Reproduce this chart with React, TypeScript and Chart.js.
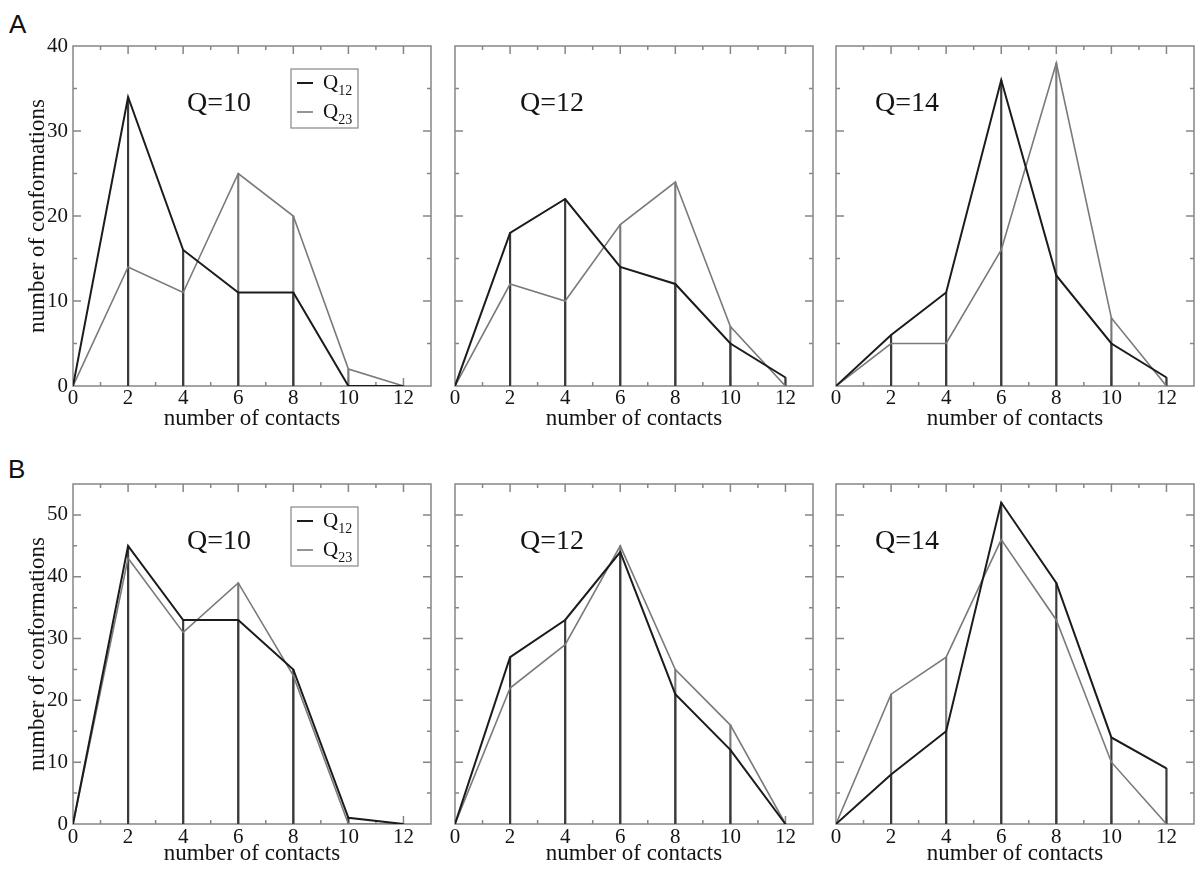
import { useEffect, useRef } from "react";
import { Chart, registerables } from "chart.js";

Chart.register(...registerables);

// Shared x values (number of contacts) and tick labels
const contacts = [0, 2, 4, 6, 8, 10, 12];
const xTicks = [0, 2, 4, 6, 8, 10, 12];
const yTicksA = [0, 10, 20, 30, 40];
const yTicksB = [0, 10, 20, 30, 40, 50];

// Row A: number of conformations per contact count
const a10Q12 = [0, 34, 16, 11, 11, 0, 0];
const a10Q23 = [0, 14, 11, 25, 20, 2, 0];
const a12Q12 = [0, 18, 22, 14, 12, 5, 1];
const a12Q23 = [0, 12, 10, 19, 24, 7, 0];
const a14Q12 = [0, 6, 11, 36, 13, 5, 1];
const a14Q23 = [0, 5, 5, 16, 38, 8, 0];

// Row B
const b10Q12 = [0, 45, 33, 33, 25, 1, 0];
const b10Q23 = [0, 43, 31, 39, 24, 0, 0];
const b12Q12 = [0, 27, 33, 44, 21, 12, 0];
const b12Q23 = [0, 22, 29, 45, 25, 16, 0];
const b14Q12 = [0, 8, 15, 52, 39, 14, 9];
const b14Q23 = [0, 21, 27, 46, 33, 10, 0];

const panelTitles = ["Q=10", "Q=12", "Q=14"];
const rowLetters = ["A", "B"];
const seriesBase = ["Q", "Q"];
const seriesSub = ["12", "23"];
const xTitle = "number of contacts";
const yTitle = "number of conformations";

const SERIF = "'Liberation Serif', 'Times New Roman', serif";
const DARK = "#1b1b1b";
const GREY = "#7a7a7a";
const FRAME = "#868686";
const TEXT = "#141414";

// Layout of each plot area (pixels in the page)
const COL_LEFT = [73, 455, 836];
const ROW_TOP = [46, 484];
const PLOT_W = 358;
const PLOT_H = 340;
const PAD_L = 73;
const PAD_T = 46;
const CANVAS_W = PAD_L + PLOT_W + 10;
const CANVAS_H = PAD_T + PLOT_H + 56;
const TITLE_DX = [114, 65, 39];
const TICK_FONT = 21;
const TITLE_FONT = 23;

type PanelProps = {
  row: number;
  col: number;
  q12: number[];
  q23: number[];
  yMax: number;
  yTicks: number[];
};

const framePlugin = {
  id: "frame",
  beforeDatasetsDraw(chart: any) {
    const { ctx, chartArea, scales } = chart;
    const { left, right, top, bottom } = chartArea;
    const x = scales.x;
    const y = scales.y;
    ctx.save();
    ctx.strokeStyle = FRAME;
    ctx.lineWidth = 1.5;
    ctx.strokeRect(left, top, right - left, bottom - top);
    ctx.beginPath();
    for (let v = 1; v < x.max; v++) {
      const px = x.getPixelForValue(v);
      const len = v % 2 === 0 ? 8 : 4;
      ctx.moveTo(px, bottom);
      ctx.lineTo(px, bottom - len);
      ctx.moveTo(px, top);
      ctx.lineTo(px, top + len);
    }
    for (let v = 5; v < y.max; v += 5) {
      const py = y.getPixelForValue(v);
      const len = v % 10 === 0 ? 8 : 4;
      ctx.moveTo(left, py);
      ctx.lineTo(left + len, py);
      ctx.moveTo(right, py);
      ctx.lineTo(right - len, py);
    }
    ctx.stroke();
    ctx.restore();
  },
  afterDraw(chart: any, _args: any, opts: any) {
    const { ctx, chartArea } = chart;
    const { left, top } = chartArea;
    ctx.save();
    ctx.fillStyle = TEXT;
    ctx.font = `28px ${SERIF}`;
    ctx.textBaseline = "alphabetic";
    ctx.textAlign = "left";
    ctx.fillText(opts.label, left + opts.labelDx, top + 65);

    if (opts.legend) {
      const bx = left + 218;
      const by = top + 23;
      ctx.strokeStyle = FRAME;
      ctx.lineWidth = 1.2;
      ctx.strokeRect(bx, by, 67, 59);
      const colors = [DARK, GREY];
      const widths = [2, 1.6];
      seriesBase.forEach((base, i) => {
        const cy = by + 14 + i * 29;
        ctx.strokeStyle = colors[i];
        ctx.lineWidth = widths[i];
        ctx.beginPath();
        ctx.moveTo(bx + 6, cy);
        ctx.lineTo(bx + 22, cy);
        ctx.stroke();
        ctx.fillStyle = TEXT;
        ctx.font = `21px ${SERIF}`;
        ctx.fillText(base, bx + 32, cy + 6);
        const w = ctx.measureText(base).width;
        ctx.font = `14px ${SERIF}`;
        ctx.fillText(seriesSub[i], bx + 32 + w, cy + 12);
      });
    }
    ctx.restore();
  },
};

function Panel({ row, col, q12, q23, yMax, yTicks }: PanelProps) {
  const ref = useRef<HTMLCanvasElement | null>(null);

  useEffect(() => {
    if (!ref.current) return;
    const pts = (vals: number[]) => contacts.map((c, i) => ({ x: c, y: vals[i] }));
    const showY = col === 0;
    const chart = new Chart(ref.current, {
      type: "line",
      data: {
        datasets: [
          {
            type: "line",
            label: "Q12",
            data: pts(q12),
            borderColor: DARK,
            borderWidth: 2,
            pointRadius: 0,
            tension: 0,
            order: 0,
          },
          {
            type: "line",
            label: "Q23",
            data: pts(q23),
            borderColor: GREY,
            borderWidth: 1.6,
            pointRadius: 0,
            tension: 0,
            order: 1,
          },
          {
            type: "bar",
            label: "Q12 drop",
            data: pts(q12),
            backgroundColor: "#3a3a3a",
            borderWidth: 0,
            barThickness: 1.5,
            grouped: false,
            order: 2,
          },
          {
            type: "bar",
            label: "Q23 drop",
            data: pts(q23),
            backgroundColor: GREY,
            borderWidth: 0,
            barThickness: 1.5,
            grouped: false,
            order: 3,
          },
        ] as any,
      },
      options: {
        responsive: false,
        animation: false,
        events: [],
        layout: { padding: { top: PAD_T, right: CANVAS_W - PAD_L - PLOT_W, left: 0, bottom: 0 } },
        plugins: {
          legend: { display: false },
          tooltip: { enabled: false },
          frame: { label: panelTitles[col], labelDx: TITLE_DX[col], legend: col === 0 },
        } as any,
        scales: {
          x: {
            type: "linear",
            min: 0,
            max: 13,
            offset: false,
            grid: { display: false, drawTicks: false },
            border: { display: false },
            afterBuildTicks: (s: any) => {
              s.ticks = xTicks.map((v) => ({ value: v }));
            },
            afterFit: (s: any) => {
              s.height = CANVAS_H - PAD_T - PLOT_H;
            },
            ticks: {
              autoSkip: false,
              maxRotation: 0,
              padding: row === 0 ? 0 : 1,
              color: TEXT,
              font: { family: SERIF, size: TICK_FONT },
            },
            title: {
              display: true,
              text: xTitle,
              color: TEXT,
              font: { family: SERIF, size: TITLE_FONT },
              padding: { top: 0, bottom: row === 0 ? 9 : 12 },
            },
          },
          y: {
            type: "linear",
            min: 0,
            max: yMax,
            grid: { display: false, drawTicks: false },
            border: { display: false },
            afterBuildTicks: (s: any) => {
              s.ticks = yTicks.map((v) => ({ value: v }));
            },
            afterFit: (s: any) => {
              s.width = PAD_L;
            },
            ticks: {
              display: showY,
              padding: 5,
              color: TEXT,
              font: { family: SERIF, size: TICK_FONT },
            },
            title: {
              display: showY,
              text: yTitle,
              color: TEXT,
              font: { family: SERIF, size: TITLE_FONT },
              padding: { top: 24, bottom: 0 },
            },
          },
        },
      },
      plugins: [framePlugin],
    } as any);
    return () => chart.destroy();
  }, [row, col, q12, q23, yMax, yTicks]);

  return (
    <canvas
      ref={ref}
      width={CANVAS_W}
      height={CANVAS_H}
      style={{
        position: "absolute",
        left: COL_LEFT[col] - PAD_L,
        top: ROW_TOP[row] - PAD_T,
        width: CANVAS_W,
        height: CANVAS_H,
      }}
    />
  );
}

export default function App() {
  const rowA = [
    [a10Q12, a10Q23],
    [a12Q12, a12Q23],
    [a14Q12, a14Q23],
  ];
  const rowB = [
    [b10Q12, b10Q23],
    [b12Q12, b12Q23],
    [b14Q12, b14Q23],
  ];
  return (
    <div
      style={{
        position: "absolute",
        left: 0,
        top: 0,
        width: 1195,
        height: 869,
        overflow: "hidden",
        background: "#ffffff",
      }}
    >
      {rowLetters.map((letter, r) => (
        <div
          key={letter}
          style={{
            position: "absolute",
            left: r === 0 ? 9 : 8,
            top: r === 0 ? 11 : 456,
            fontFamily: "'Liberation Sans', Arial, sans-serif",
            fontSize: 26,
            lineHeight: "26px",
            color: "#111",
          }}
        >
          {letter}
        </div>
      ))}
      {rowA.map(([q12, q23], c) => (
        <Panel key={`a${c}`} row={0} col={c} q12={q12} q23={q23} yMax={40} yTicks={yTicksA} />
      ))}
      {rowB.map(([q12, q23], c) => (
        <Panel key={`b${c}`} row={1} col={c} q12={q12} q23={q23} yMax={55} yTicks={yTicksB} />
      ))}
    </div>
  );
}
